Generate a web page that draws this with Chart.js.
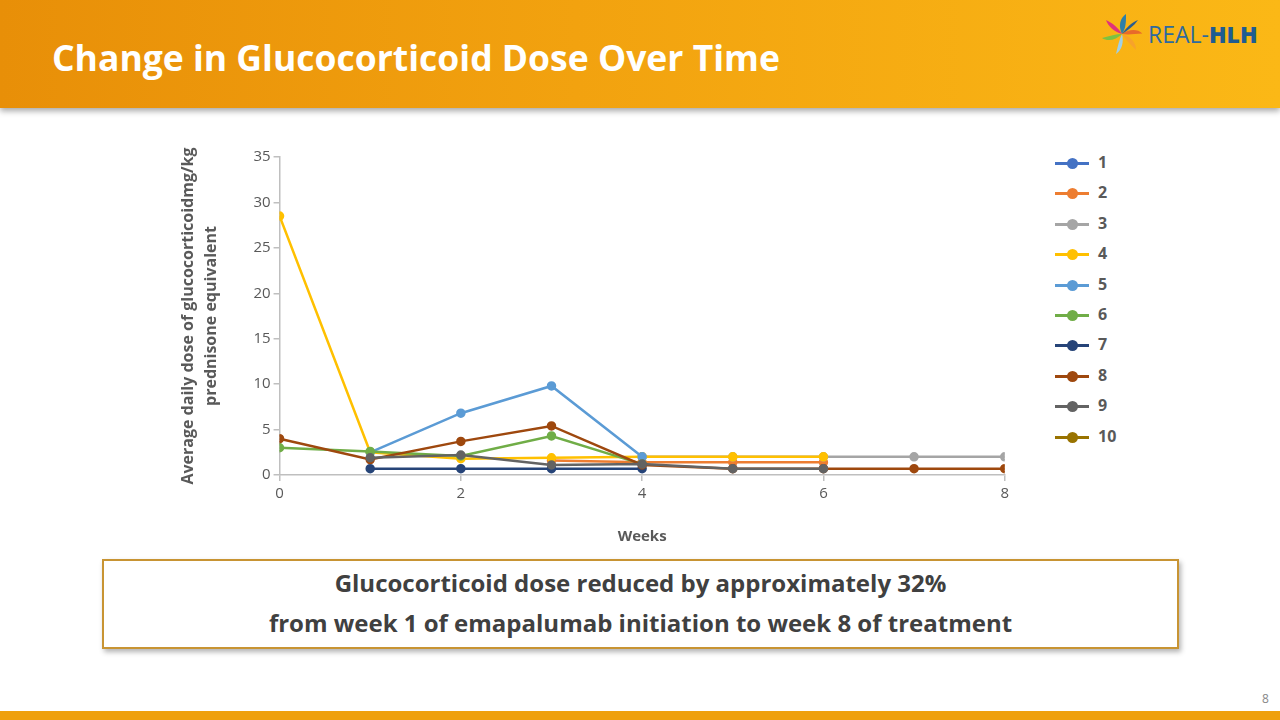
<!DOCTYPE html>
<html>
<head>
<meta charset="utf-8">
<script src="https://cdn.jsdelivr.net/npm/chart.js@4.4.0/dist/chart.umd.min.js"></script>
<style>
  html, body { margin: 0; padding: 0; background: #fff; }
  #slide { position: relative; width: 1280px; height: 720px; overflow: hidden; font-family: 'Open Sans', sans-serif; }
  #banner {
    position: absolute; left: 0; top: 0; width: 1280px; height: 108px;
    background: linear-gradient(90deg, #E88F08 0%, #F2A20F 45%, #FBB816 100%);
    box-shadow: 0 3px 6px rgba(0,0,0,0.35);
  }
  #title { position: absolute; left: 52px; top: 33px; color: #fff; font-weight: 700; font-size: 35.5px; white-space: nowrap; }
  #logo { position: absolute; left: 1096px; top: 8px; }
  #chartBox { position: absolute; left: 173px; top: 145px; width: 840px; height: 405px; }
  #legend { position: absolute; left: 1053px; top: 153px; }
  .lg { position: relative; height: 30.4px; }
  .lg .ln { position: absolute; left: 2px; top: 9px; width: 34px; height: 3px; }
  .lg .dt { position: absolute; left: 14px; top: 5px; width: 11px; height: 11px; border-radius: 50%; }
  .lg .tx { position: absolute; left: 45px; top: -2px; font-weight: 700; font-size: 16px; color: #595959; }
  #note {
    position: absolute; left: 102px; top: 559px; width: 1073px; height: 84px;
    border: 2px solid #C89433; background: #fff; box-shadow: 2px 3px 5px rgba(0,0,0,0.3);
    text-align: center; color: #404040; font-weight: 700; font-size: 24px; line-height: 40px;
    padding-top: 2px; box-sizing: content-box;
  }
  #page { position: absolute; left: 1262px; top: 690px; font-size: 12px; color: #888; }
  #bottom { position: absolute; left: 0; top: 711px; width: 1280px; height: 9px; background: #EFA00C; }
</style>
</head>
<body>
<div id="slide">
  <div id="banner"></div>
  <div id="title">Change in Glucocorticoid Dose Over Time</div>
  <svg id="logo" width="180" height="54" viewBox="0 0 180 54">
    <g transform="translate(26,26)">
      <path d="M0,0 C-4,-8 -2,-16 4,-20 C4,-12 4,-6 0,0Z" fill="#2D7FA8"/>
      <path d="M0,0 C6,-6 14,-8 20,-4 C12,-2 6,0 0,0Z" fill="#E86A2A" transform="rotate(10)"/>
      <path d="M0,0 C8,2 14,8 14,16 C8,10 4,6 0,0Z" fill="#F7A22B"/>
      <path d="M0,0 C2,8 0,16 -6,20 C-4,12 -3,6 0,0Z" fill="#9FD0E8"/>
      <path d="M0,0 C-6,6 -14,8 -20,4 C-12,2 -6,0 0,0Z" fill="#7CC242"/>
      <path d="M0,0 C-8,-2 -14,-8 -16,-14 C-8,-10 -4,-6 0,0Z" fill="#E0327A"/>
      <path d="M0,0 C4,-6 10,-12 16,-14 C12,-8 6,-4 0,0Z" fill="#2A5C8F"/>
    </g>
    <text x="52" y="35" font-family="'Open Sans', sans-serif" font-size="23" fill="#2E6A9E">REAL-<tspan font-weight="800" fill="#1F5C91">HLH</tspan></text>
  </svg>
  <div id="chartBox"><canvas id="doseChart"></canvas></div>
  <div id="legend"></div>
  <div id="note">Glucocorticoid dose reduced by approximately 32%<br>from week 1 of emapalumab initiation to week 8 of treatment</div>
  <div id="page">8</div>
  <div id="bottom"></div>
</div>
<script>
// Weeks on the x axis
const weeks = [0, 1, 2, 3, 4, 5, 6, 7, 8];
const xTicks = [0, 2, 4, 6, 8];

// Patient series (mg/kg prednisone equivalent), null = no value
const patient1 = [null, null, null, null, null, null, null, null, null];
const patient2 = [null, null, null, 1.6, 1.4, 1.4, 1.4, null, null];
const patient3 = [null, null, null, null, 2.0, 2.0, 2.0, 2.0, 2.0];
const patient4 = [28.5, 2.5, 1.8, 1.9, 2.0, 2.0, 2.0, null, null];
const patient5 = [null, 2.5, 6.8, 9.8, 2.0, null, null, null, null];
const patient6 = [3.0, 2.6, 2.1, 4.3, 1.2, null, null, null, null];
const patient7 = [null, 0.7, 0.7, 0.7, 0.7, null, null, null, null];
const patient8 = [4.0, 1.7, 3.7, 5.4, 1.1, 0.7, 0.7, 0.7, 0.7];
const patient9 = [null, 1.9, 2.2, 1.1, 1.2, 0.7, 0.7, null, null];
const patient10 = [null, null, null, null, null, null, null, null, null];

const seriesLabels = ['1', '2', '3', '4', '5', '6', '7', '8', '9', '10'];
const seriesValues = [patient1, patient2, patient3, patient4, patient5, patient6, patient7, patient8, patient9, patient10];
const seriesColors = ['#4472C4', '#ED7D31', '#A5A5A5', '#FFC000', '#5B9BD5', '#70AD47', '#264478', '#9E480E', '#636363', '#997300'];

const axisColor = '#BFBFBF';
const textColor = '#595959';

// HTML legend (line + marker like the original)
const legendEl = document.getElementById('legend');
seriesLabels.forEach((lab, i) => {
  const row = document.createElement('div');
  row.className = 'lg';
  row.innerHTML = '<div class="ln" style="background:' + seriesColors[i] + '"></div>' +
    '<div class="dt" style="background:' + seriesColors[i] + '"></div>' +
    '<div class="tx">' + lab + '</div>';
  legendEl.appendChild(row);
});

const datasets = seriesLabels.map((lab, i) => ({
  label: lab,
  data: weeks.map((w, j) => ({ x: w, y: seriesValues[i][j] })),
  borderColor: seriesColors[i],
  backgroundColor: seriesColors[i],
  borderWidth: 2.5,
  pointRadius: 3.5,
  tension: 0,
  spanGaps: false,
  order: seriesLabels.length - i
}));

new Chart(document.getElementById('doseChart'), {
  type: 'line',
  data: { datasets },
  options: {
    responsive: true,
    maintainAspectRatio: false,
    animation: false,
    layout: { padding: { top: 4, right: 4 } },
    plugins: { legend: { display: false }, tooltip: { enabled: false } },
    scales: {
      x: {
        type: 'linear',
        min: 0, max: 8,
        afterBuildTicks: axis => { axis.ticks = xTicks.map(v => ({ value: v })); },
        grid: { drawOnChartArea: false, drawTicks: true, tickLength: 6, color: axisColor, lineWidth: 1.5 },
        border: { color: axisColor, width: 1.5 },
        ticks: { color: textColor, font: { family: 'Open Sans', size: 15 }, padding: 4 },
        title: { display: true, text: 'Weeks', color: textColor, font: { family: 'Open Sans', size: 15, weight: 'bold' }, padding: { top: 21 } }
      },
      y: {
        min: 0, max: 35,
        ticks: { stepSize: 5, color: textColor, font: { family: 'Open Sans', size: 15 }, padding: 3 },
        grid: { drawOnChartArea: false, drawTicks: true, tickLength: 6, color: axisColor, lineWidth: 1.5 },
        border: { color: axisColor, width: 1.5 },
        title: {
          display: true,
          text: ['Average daily dose of glucocorticoidmg/kg', 'prednisone equivalent'],
          color: textColor, font: { family: 'Open Sans', size: 16, weight: 'bold', lineHeight: 1.45 }, padding: { bottom: 27 }
        }
      }
    }
  }
});
</script>
</body>
</html>
